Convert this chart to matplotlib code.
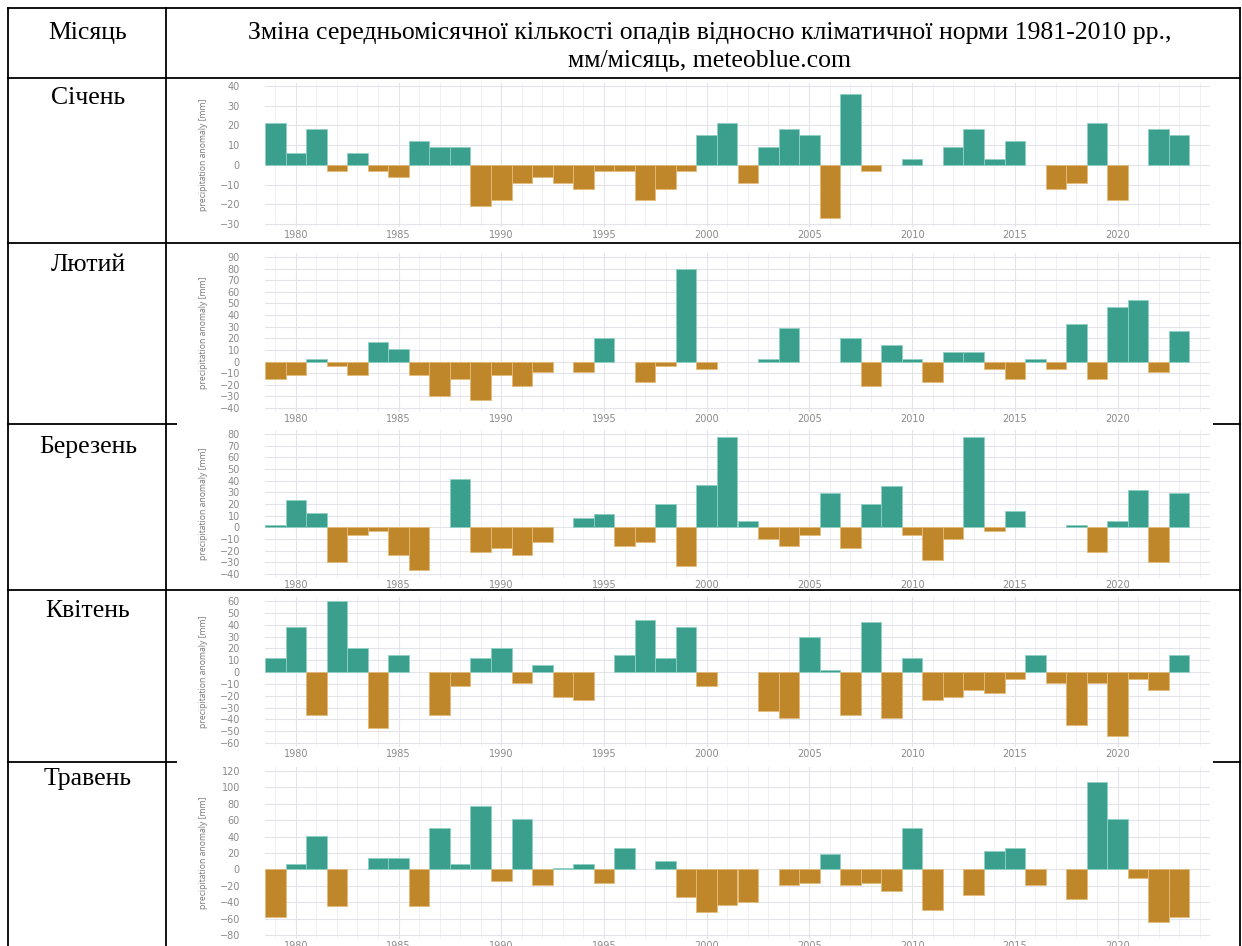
"""
Monthly precipitation anomaly table (January - May), meteoblue style charts.
"""

import matplotlib.pyplot as plt
from matplotlib.lines import Line2D
from matplotlib.patches import Rectangle


# 1. Data

years = list(range(1979, 2024))

january = [21, 6, 18, -3, 6, -3, -6, 12, 9, 9, -21, -18, -9, -6, -9,
           -12, -3, -3, -18, -12, -3, 15, 21, -9, 9, 18, 15, -27, 36, -3,
           0, 3, 0, 9, 18, 3, 12, 0, -12, -9, 21, -18, 0, 18, 15]

february = [-15, -12, 2, -3.5, -12, 17, 11, -12, -30, -15, -33, -12, -21,
            -9, 0, -9, 20, 0, -18, -3.5, 80, -6.5, 0, 0, 2, 29, 0, 0, 20,
            -21, 14, 2, -18, 8, 8, -6.5, -15, 2, -6.5, 32, -15, 47, 53, -9, 26]

march = [2, 23, 12, -30, -7, -3, -24, -37, 0, 41, -21, -18, -24, -13, 0,
         8, 11, -16, -13, 20, -33, 36, 77, 5, -10, -16, -7, 29, -18, 20,
         35, -7, -28, -10, 77, -3, 14, 0, 0, 2, -21, 5, 32, -30, 29]

april = [12, 38, -36, 60, 20, -47, 14, 0, -36, -12, 12, 20, -9, 6, -21,
         -24, 0, 14, 44, 12, 38, -12, 0, 0, -33, -39, 30, 2, -36, 42, -39,
         12, -24, -21, -15, -18, -6, 14, -9, -45, -9, -54, -6, -15, 14]

may = [-58, 7, 41, -45, 0, 14, 14, -45, 50, 7, 77, -14, 62, -19, 2, 7,
       -16, 26, 0, 10, -34, -52, -43, -40, 0, -19, -16, 19, -19, -16, -26,
       50, -49, 0, -31, 23, 26, -19, 0, -36, 107, 62, -10, -64, -58]

month_names = ["Січень", "Лютий", "Березень", "Квітень", "Травень"]
month_series = [january, february, march, april, may]

header_month = "Місяць"
header_line_1 = ("Зміна середньомісячної кількості опадів відносно "
                 "кліматичної норми 1981-2010 рр.,")
header_line_2 = "мм/місяць, meteoblue.com"
y_label = "precipitation anomaly [mm]"

year_ticks = [1980, 1985, 1990, 1995, 2000, 2005, 2010, 2015, 2020]

# y tick range per chart: (top tick, bottom tick, step)
y_ranges = [(40, -30, 10), (90, -40, 10), (80, -40, 10),
            (60, -60, 10), (120, -80, 20)]


# 2. Layout in pixels

W, H = 1242, 946

TEAL = "#3a9f8d"
TEAL_EDGE = "#8fd0c3"
ORANGE = "#c0862a"
ORANGE_EDGE = "#e2bb7a"
GRID_MAJOR = "#e3e3ea"
GRID_MINOR = "#f0f0f4"
TICK_COLOR = "#8a8a8a"

table_left, table_mid, table_right = 8, 166, 1240
row_lines = [8, 78, 243, 424, 590, 762]
label_y = [98, 265, 447, 611, 779]

# pixel position of the top and bottom y tick in each chart
tick_px = [(86, 224), (257, 408), (434, 574), (601, 743), (771, 935)]

# white chart images that hide the table lines
image_px = [(80, 241), (246, 422), (422, 588), (593, 760), (760, 946)]

plot_left, plot_right = 265, 1210
x_min, x_max = 1978.5, 2024.5


def fx(x):
    return x / W


def fy(y):
    return 1 - y / H


fig = plt.figure(figsize=(W / 100, H / 100), dpi=100)


# 3. Table lines and texts

for y in row_lines:
    fig.add_artist(Line2D([fx(table_left), fx(table_right)], [fy(y), fy(y)],
                          color="black", linewidth=1.3, zorder=1))

for x in [table_left, table_mid, table_right]:
    fig.add_artist(Line2D([fx(x), fx(x)], [fy(row_lines[0]), fy(H + 5)],
                          color="black", linewidth=1.3, zorder=1))

serif = "Liberation Serif"
text_size = 18.5

fig.text(fx(88), fy(33), header_month, family=serif, fontsize=text_size,
         ha="center", va="center")
fig.text(fx(710), fy(33), header_line_1, family=serif, fontsize=text_size,
         ha="center", va="center")
fig.text(fx(710), fy(61), header_line_2, family=serif, fontsize=text_size,
         ha="center", va="center")

for name, y in zip(month_names, label_y):
    fig.text(fx(88), fy(y), name, family=serif, fontsize=text_size,
             ha="center", va="center")

for top, bottom in image_px:
    fig.add_artist(Rectangle((fx(177), fy(bottom)), fx(1213 - 177),
                             (bottom - top) / H, facecolor="white",
                             edgecolor="none", zorder=2))


# 4. Charts

for values, (t_top, t_bot, step), (p_top, p_bot) in zip(
        month_series, y_ranges, tick_px):

    margin = 0.025 * (t_top - t_bot)
    px_per_unit = (p_bot - p_top) / (t_top - t_bot)
    ax_top = p_top - margin * px_per_unit
    ax_bot = p_bot + margin * px_per_unit

    ax = fig.add_axes([fx(plot_left), fy(ax_bot),
                       fx(plot_right - plot_left), (ax_bot - ax_top) / H])
    ax.set_zorder(3)
    ax.set_facecolor("white")

    bar_years = [yr for yr, v in zip(years, values) if v != 0]
    bar_values = [v for v in values if v != 0]
    colors = [TEAL if v > 0 else ORANGE for v in bar_values]
    edges = [TEAL_EDGE if v > 0 else ORANGE_EDGE for v in bar_values]

    ax.bar(bar_years, bar_values, width=1.0, color=colors,
           edgecolor=edges, linewidth=0.6, zorder=3)

    ax.set_xlim(x_min, x_max)
    ax.set_ylim(t_bot - margin, t_top + margin)

    ax.set_xticks(year_ticks)
    ax.set_xticks(range(1979, 2025), minor=True)
    ax.set_yticks(range(t_bot, t_top + 1, step))

    ax.grid(which="major", color=GRID_MAJOR, linewidth=0.8, zorder=0)
    ax.grid(which="minor", axis="x", color=GRID_MINOR, linewidth=0.7,
            zorder=0)
    ax.set_axisbelow(True)

    for spine in ax.spines.values():
        spine.set_visible(False)

    ax.tick_params(which="both", length=0, labelsize=7,
                   labelcolor=TICK_COLOR)
    ax.tick_params(axis="y", pad=18)
    ax.tick_params(axis="x", pad=1.5)

    fig.text(fx(203), fy((p_top + p_bot) / 2), y_label, family="Open Sans",
             fontsize=6.2, color="#777777", rotation=90,
             ha="center", va="center", zorder=4)


fig.savefig("out.png", dpi=100)
